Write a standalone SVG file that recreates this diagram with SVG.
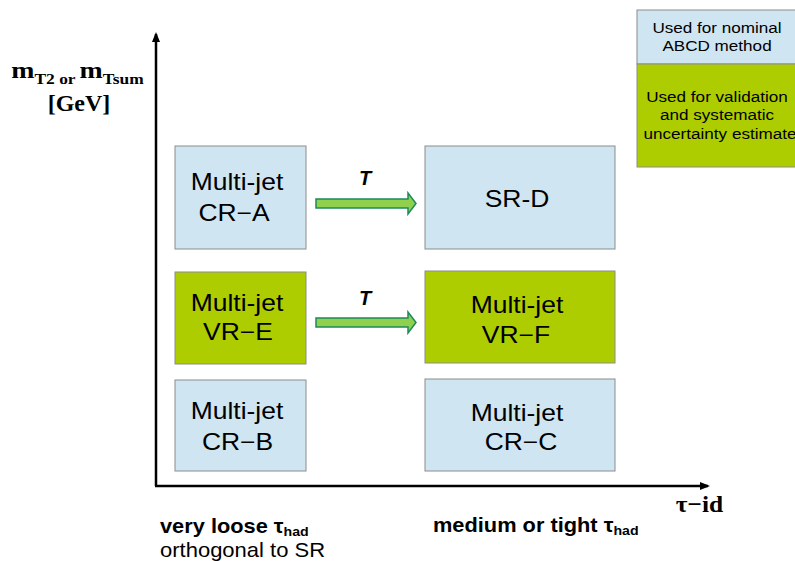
<svg xmlns="http://www.w3.org/2000/svg" width="795" height="561" viewBox="0 0 795 561">
<style>
.blue{fill:#cfe5f2;stroke:#8c8c8c;stroke-width:1}
.green{fill:#aecd00;stroke:#8c8c8c;stroke-width:1}
.nt{font-family:"Liberation Sans",Arial,sans-serif;font-size:23px;fill:#000;text-anchor:middle}
.lt{font-family:"Liberation Sans",Arial,sans-serif;font-size:15px;fill:#000;text-anchor:middle}
.ax{stroke:#000;stroke-width:2.5;fill:none}
.serif{font-family:"Liberation Serif","Times New Roman",serif;font-weight:bold;fill:#000}
.bl{font-family:"Liberation Sans",Arial,sans-serif;font-size:20px;fill:#000}
.garrow{fill:#8fd14f;stroke:#1e8a5a;stroke-width:1.5}
.tl{font-family:"Liberation Sans",Arial,sans-serif;font-size:20px;font-weight:bold;font-style:italic;text-anchor:middle}
</style>
<defs>
<marker id="ah" markerWidth="10" markerHeight="8" refX="8" refY="4" orient="auto" markerUnits="userSpaceOnUse">
<path d="M0,0 L10,4 L0,8 Z" fill="#000"/>
</marker>
</defs>
<rect width="795" height="561" fill="#fff"/>
<g id="axes">
<line class="ax" x1="156" y1="486" x2="156" y2="34" marker-end="url(#ah)"/>
<line class="ax" x1="155" y1="486" x2="708" y2="486" marker-end="url(#ah)"/>
</g>
<g id="ylabel">
<text class="serif" transform="translate(77.5,78) scale(1.16,1)" text-anchor="middle" font-size="24">m<tspan font-size="15" dy="6">T2 or </tspan><tspan dy="-6">m</tspan><tspan font-size="15" dy="6">Tsum</tspan></text>
<text class="serif" x="79" y="111" text-anchor="middle" font-size="24">[GeV]</text>
</g>
<g id="xlabel">
<text class="serif" transform="translate(699.5,512) scale(1.06,1)" text-anchor="middle" font-size="24">τ−id</text>
</g>
<g id="legend">
<rect class="blue" x="637" y="10" width="160" height="54"/>
<rect class="green" x="637" y="64" width="160" height="103"/>
<text class="lt" transform="translate(717,33) scale(1.14,1)">Used for nominal</text>
<text class="lt" transform="translate(717,51) scale(1.14,1)">ABCD method</text>
<text class="lt" transform="translate(717,102) scale(1.14,1)">Used for validation</text>
<text class="lt" transform="translate(717,120) scale(1.14,1)">and systematic</text>
<text class="lt" transform="translate(720,139) scale(1.14,1)">uncertainty estimate</text>
</g>
<g id="node-A">
<rect class="blue" x="175" y="146" width="131" height="103"/>
<text class="nt" transform="translate(237,189.5) scale(1.15,1)">Multi-jet</text>
<text class="nt" transform="translate(234,221) scale(1.15,1)">CR−A</text>
</g>
<g id="node-D">
<rect class="blue" x="425" y="146" width="190" height="103"/>
<text class="nt" transform="translate(517,207) scale(1.15,1)">SR-D</text>
</g>
<g id="node-E">
<rect class="green" x="175" y="272" width="131" height="92"/>
<text class="nt" transform="translate(237,311) scale(1.15,1)">Multi-jet</text>
<text class="nt" transform="translate(238,340) scale(1.15,1)">VR−E</text>
</g>
<g id="node-F">
<rect class="green" x="425" y="271" width="190" height="92"/>
<text class="nt" transform="translate(517,313) scale(1.15,1)">Multi-jet</text>
<text class="nt" transform="translate(516,343) scale(1.15,1)">VR−F</text>
</g>
<g id="node-B">
<rect class="blue" x="175" y="380" width="131" height="91"/>
<text class="nt" transform="translate(237,419) scale(1.15,1)">Multi-jet</text>
<text class="nt" transform="translate(237.5,450) scale(1.15,1)">CR−B</text>
</g>
<g id="node-C">
<rect class="blue" x="425" y="379" width="190" height="92"/>
<text class="nt" transform="translate(517,421) scale(1.15,1)">Multi-jet</text>
<text class="nt" transform="translate(521,450) scale(1.15,1)">CR−C</text>
</g>
<g id="connectors">
<path class="garrow" d="M316,199 L408,199 L408,193 L416,203.5 L408,214 L408,208 L316,208 Z"/>
<text class="tl" x="365" y="185">T</text>
<path class="garrow" d="M316,318 L408,318 L408,312 L416,322.5 L408,333 L408,327 L316,327 Z"/>
<text class="tl" x="365" y="305">T</text>
</g>
<g id="bottom-labels">
<text class="bl" transform="translate(160,533) scale(1.09,1)" font-weight="bold">very loose τ<tspan font-size="13" dy="3">had</tspan></text>
<text class="bl" transform="translate(160,557) scale(1.1,1)">orthogonal to SR</text>
<text class="bl" transform="translate(433,532) scale(1.09,1)" font-weight="bold">medium or tight τ<tspan font-size="13" dy="3">had</tspan></text>
</g>
</svg>
